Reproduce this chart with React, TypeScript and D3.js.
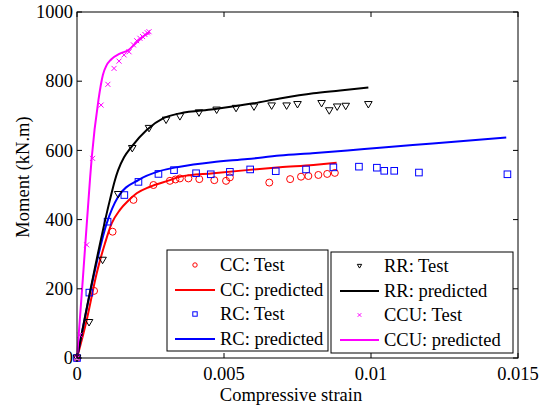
import React from "react";
import * as d3 from "d3";

// ---- data ----
const ccTestStrain = [0, 0.00058, 0.00121, 0.00192, 0.0026, 0.00316, 0.00335, 0.0035, 0.00379, 0.00416, 0.00467, 0.00507, 0.0052, 0.00654, 0.00725, 0.00762, 0.00787, 0.00821, 0.00851, 0.00877];
const ccTestMoment = [0, 194, 365, 457, 500, 512, 516, 519, 519, 517, 514, 512, 522, 507, 517, 524, 526, 529, 532, 535];
const ccPredStrain = [0, 0.00033, 0.00067, 0.00095, 0.00118, 0.00146, 0.00175, 0.00203, 0.00248, 0.00316, 0.0035, 0.00464, 0.00577, 0.0069, 0.00804, 0.00883];
const ccPredMoment = [0, 110, 245, 331, 389, 428, 455, 476, 495, 514, 524, 534, 543, 551, 558, 564];

const rcTestStrain = [0, 0.00042, 0.00104, 0.00161, 0.00209, 0.00277, 0.0033, 0.00405, 0.00455, 0.0052, 0.00589, 0.00676, 0.00779, 0.00872, 0.00959, 0.0102, 0.01045, 0.01079, 0.01163, 0.01464];
const rcTestMoment = [0, 189, 394, 471, 509, 532, 543, 534, 531, 538, 545, 540, 545, 551, 553, 550, 541, 541, 536, 531];
const rcPredStrain = [0, 0.00044, 0.00101, 0.0014, 0.0021, 0.0028, 0.0035, 0.0046, 0.0058, 0.0069, 0.008, 0.0092, 0.0103, 0.0121, 0.0146];
const rcPredMoment = [0, 187, 389, 466, 515, 540, 553, 566, 575, 585, 592, 600, 608, 620, 637];

const rrTestStrain = [0, 0.00041, 0.00087, 0.0014, 0.00188, 0.00245, 0.00303, 0.0035, 0.00415, 0.00475, 0.00541, 0.00602, 0.00662, 0.00713, 0.0075, 0.00832, 0.00858, 0.00885, 0.00914, 0.00991];
const rrTestMoment = [0, 103, 283, 473, 606, 664, 688, 698, 709, 717, 722, 726, 729, 729, 733, 736, 715, 726, 728, 733];
const rrPredStrain = [0, 0.00112, 0.00129, 0.0014, 0.0016, 0.00186, 0.00237, 0.00294, 0.0035, 0.00464, 0.006, 0.0069, 0.00804, 0.00895, 0.00991];
const rrPredMoment = [0, 457, 514, 543, 580, 611, 659, 693, 707, 719, 736, 750, 765, 773, 782];

const ccuTestStrain = [0, 0.0001, 0.00033, 0.00053, 0.00082, 0.00105, 0.00126, 0.00143, 0.0016, 0.00177, 0.00192, 0.00203, 0.00214, 0.00223, 0.00231, 0.00239, 0.00245];
const ccuTestMoment = [0, 66, 327, 577, 731, 791, 837, 858, 876, 885, 905, 917, 924, 929, 935, 940, 943];
const ccuPredStrain = [0, 0.0002, 0.00044, 0.0005, 0.00073, 0.00088, 0.001, 0.00115, 0.00146, 0.00175, 0.002, 0.0023, 0.00248];
const ccuPredMoment = [0, 230, 514, 578, 746, 818, 845, 862, 880, 890, 910, 932, 942];

const xTicks = [0, 0.005, 0.01, 0.015];
const xTickLabels = ["0", "0.005", "0.01", "0.015"];
const yTicks = [0, 200, 400, 600, 800, 1000];
const yTickLabels = ["0", "200", "400", "600", "800", "1000"];

const legendLeft = ["CC: Test", "CC: predicted", "RC: Test", "RC: predicted"];
const legendRight = ["RR: Test", "RR: predicted", "CCU: Test", "CCU: predicted"];

// ---- layout ----
const W = 544, H = 412;
const L = 77, R = 518, T = 12, B = 358;
const FONT = "Liberation Serif, Times New Roman, DejaVu Serif, serif";
const txt = { fontFamily: FONT, fontSize: "18.5px" } as React.CSSProperties;

const x = d3.scaleLinear().domain([0, 0.015]).range([L, R]);
const y = d3.scaleLinear().domain([0, 1000]).range([B, T]);

const zip = (xs: number[], ys: number[]) => xs.map((v, i) => [v, ys[i]] as [number, number]);
const lineGen = d3.line<[number, number]>().x(d => x(d[0])).y(d => y(d[1])).curve(d3.curveMonotoneX);

type MarkerKind = "circle" | "square" | "tri" | "x";

function Marker({ kind, cx, cy, s, color }: { kind: MarkerKind; cx: number; cy: number; s: number; color: string }) {
  if (kind === "circle") return <circle cx={cx} cy={cy} r={s} fill="none" stroke={color} strokeWidth={1} />;
  if (kind === "square") return <rect x={cx - s} y={cy - s} width={2 * s} height={2 * s} fill="none" stroke={color} strokeWidth={1} />;
  if (kind === "tri") {
    const p = `M${cx - s},${cy - s * 0.75}L${cx + s},${cy - s * 0.75}L${cx},${cy + s * 0.95}Z`;
    return <path d={p} fill="none" stroke={color} strokeWidth={1} />;
  }
  const p = `M${cx - s},${cy - s}L${cx + s},${cy + s}M${cx - s},${cy + s}L${cx + s},${cy - s}`;
  return <path d={p} fill="none" stroke={color} strokeWidth={1} />;
}

const series = [
  { test: zip(ccTestStrain, ccTestMoment), pred: zip(ccPredStrain, ccPredMoment), color: "#ff0000", kind: "circle" as MarkerKind, s: 3.5 },
  { test: zip(rcTestStrain, rcTestMoment), pred: zip(rcPredStrain, rcPredMoment), color: "#0000ff", kind: "square" as MarkerKind, s: 3.3 },
  { test: zip(rrTestStrain, rrTestMoment), pred: zip(rrPredStrain, rrPredMoment), color: "#000000", kind: "tri" as MarkerKind, s: 3.8 },
  { test: zip(ccuTestStrain, ccuTestMoment), pred: zip(ccuPredStrain, ccuPredMoment), color: "#ff00ff", kind: "x" as MarkerKind, s: 2.5 },
];

function LegendBox({ x0, y0, w, h, labels, items, lineX1, lineX2, textX, rows }: any) {
  return (
    <g>
      <rect x={x0} y={y0} width={w} height={h} fill="#fff" stroke="#000" strokeWidth={1} />
      {labels.map((lab: string, i: number) => {
        const it = items[Math.floor(i / 2)];
        const cy = rows[i];
        return (
          <g key={i}>
            {i % 2 === 0 ? (
              <Marker kind={it.kind} cx={(lineX1 + lineX2) / 2} cy={cy} s={it.kind === "x" ? 1.8 : 2.2} color={it.color} />
            ) : (
              <line x1={lineX1} x2={lineX2} y1={cy} y2={cy} stroke={it.color} strokeWidth={2} />
            )}
            <text x={textX} y={cy} dy="0.33em" style={txt}>{lab}</text>
          </g>
        );
      })}
    </g>
  );
}

export default function App() {
  return (
    <svg width={W} height={H} style={{ position: "absolute", left: 0, top: 0, background: "#fff" }}>
      <rect x={0} y={0} width={W} height={H} fill="#fff" />
      {series.map((s, i) => (
        <g key={i}>
          {s.test.map((d, j) => (
            <Marker key={j} kind={s.kind} cx={x(d[0])} cy={y(d[1])} s={s.s} color={s.color} />
          ))}
          <path d={lineGen(s.pred) || ""} fill="none" stroke={s.color} strokeWidth={2} strokeLinejoin="round" />
        </g>
      ))}
      <rect x={L} y={T} width={R - L} height={B - T} fill="none" stroke="#000" strokeWidth={1} />
      {xTicks.map((t, i) => (
        <g key={"xt" + i}>
          <line x1={x(t)} x2={x(t)} y1={B} y2={B - 5} stroke="#000" />
          <line x1={x(t)} x2={x(t)} y1={T} y2={T + 5} stroke="#000" />
          <text x={x(t)} y={380} textAnchor="middle" style={txt}>{xTickLabels[i]}</text>
        </g>
      ))}
      {yTicks.map((t, i) => (
        <g key={"yt" + i}>
          <line x1={L} x2={L + 5} y1={y(t)} y2={y(t)} stroke="#000" />
          <line x1={R} x2={R - 5} y1={y(t)} y2={y(t)} stroke="#000" />
          <text x={73} y={y(t)} dy="0.33em" textAnchor="end" style={txt}>{yTickLabels[i]}</text>
        </g>
      ))}
      <text x={291} y={401} textAnchor="middle" style={txt}>Compressive strain</text>
      <text transform={`translate(29,${(T + B) / 2 - 8}) rotate(-90)`} textAnchor="middle" style={txt}>Moment (kN.m)</text>
      <LegendBox x0={167} y0={250} w={161} h={101} labels={legendLeft} items={series.slice(0, 2)}
        lineX1={175} lineX2={215} textX={220} rows={[265, 290, 314, 339]} />
      <LegendBox x0={331} y0={252} w={182} h={101} labels={legendRight} items={series.slice(2, 4)}
        lineX1={340} lineX2={379} textX={384} rows={[266, 291, 315, 340]} />
    </svg>
  );
}
